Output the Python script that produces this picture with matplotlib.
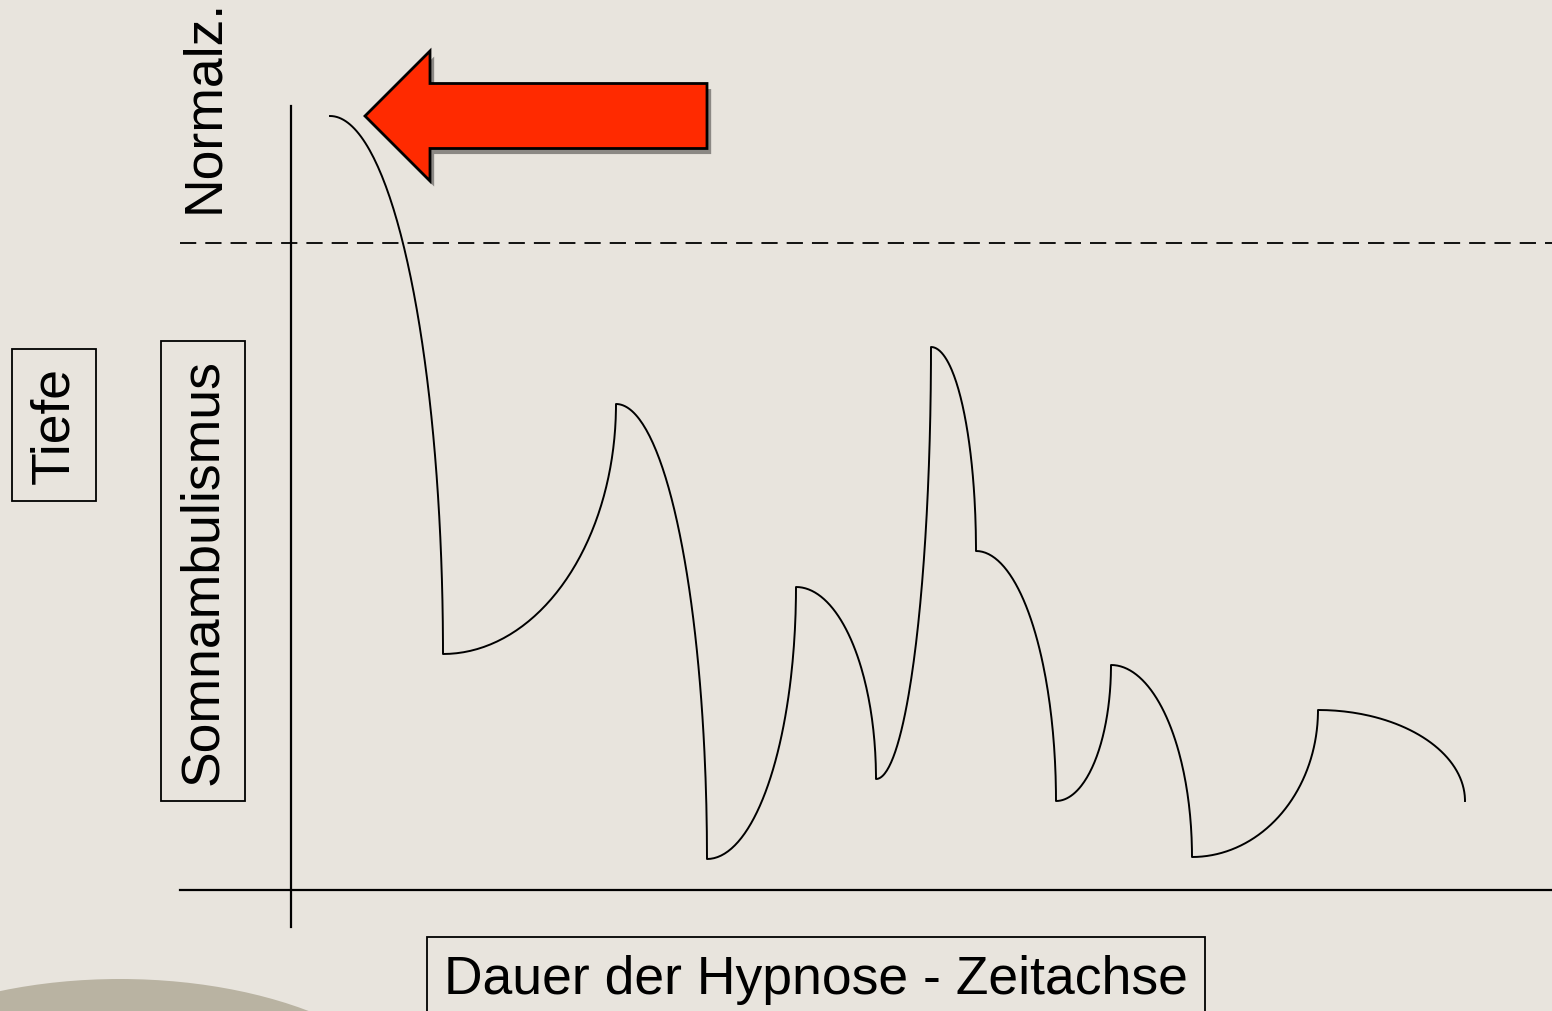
import numpy as np
import matplotlib.pyplot as plt
from matplotlib.patches import FancyArrow, Ellipse
import matplotlib.patheffects as pe

plt.rcParams['font.family'] = ['Liberation Sans', 'DejaVu Sans']

# Knotenpunkte der Kurve (Zeit, Tiefe-Niveau), zwischen je zwei Punkten ein Viertelbogen
zeit = [40, 153, 326, 417, 506, 586, 641, 686, 766, 821, 902, 1028, 1175]
niveau = [773, 235, 485, 30, 302, 110, 542, 338, 88, 224, 32, 179, 88]

normal_grenze = 646          # gestrichelte Linie
x_label = "Dauer der Hypnose - Zeitachse"
y_label = "Tiefe"
zone_oben = "Normalz."
zone_unten = "Somnambulismus"

paper = '#e8e4dd'

fig = plt.figure(figsize=(15.52, 10.12), dpi=100)
fig.patch.set_facecolor(paper)
ax = fig.add_axes([0, 0, 1, 1])
ax.set_xlim(-290, 1262)
ax.set_ylim(-122, 890)
ax.set_facecolor(paper)
ax.axis('off')

# dunklerer Fleck unten links
ax.add_patch(Ellipse((-170, -245), 620, 310, fc='#b9b3a2', ec='none', zorder=0))

# Achsen
ax.plot([-110, 1262], [-1, -1], color='black', lw=1.6)
ax.plot([1, 1], [-38, 783], color='black', lw=1.6)
ax.plot([-110, 1262], [normal_grenze, normal_grenze], color='black', lw=1.3,
        dashes=(9, 5))

# Kurve aus Viertelbögen
xs, ys = [], []
t = np.linspace(0, np.pi / 2, 80)
for i in range(len(zeit) - 1):
    x0, x1 = zeit[i], zeit[i + 1]
    y0, y1 = niveau[i], niveau[i + 1]
    xs.append(x0 + (x1 - x0) * np.sin(t))
    ys.append(y1 + (y0 - y1) * np.cos(t))
ax.plot(np.concatenate(xs), np.concatenate(ys), color='black', lw=1.4)

# roter Pfeil
arrow = FancyArrow(417, 773, -342, 0, width=65, head_width=130, head_length=65,
                   length_includes_head=True, fc='#ff2a00', ec='black', lw=2)
arrow.set_path_effects([pe.SimplePatchShadow(offset=(3, -4), shadow_rgbFace='black', alpha=0.4),
                        pe.Normal()])
ax.add_patch(arrow)

# Beschriftungen
box = dict(boxstyle='square,pad=0.32', fc='none', ec='black', lw=1.3)
ax.text(526, -104, x_label, fontsize=38.5, ha='center', va='baseline', bbox=box)
ax.text(-236, 464, y_label, fontsize=38.5, ha='center', va='center', rotation=90, bbox=box)
ax.text(-87, 318, zone_unten, fontsize=38.5, ha='center', va='center', rotation=90, bbox=box)
ax.text(-86, 677, zone_oben, fontsize=38.5, ha='center', va='bottom', rotation=90)

fig.savefig('out.png', dpi=100, facecolor=paper)
